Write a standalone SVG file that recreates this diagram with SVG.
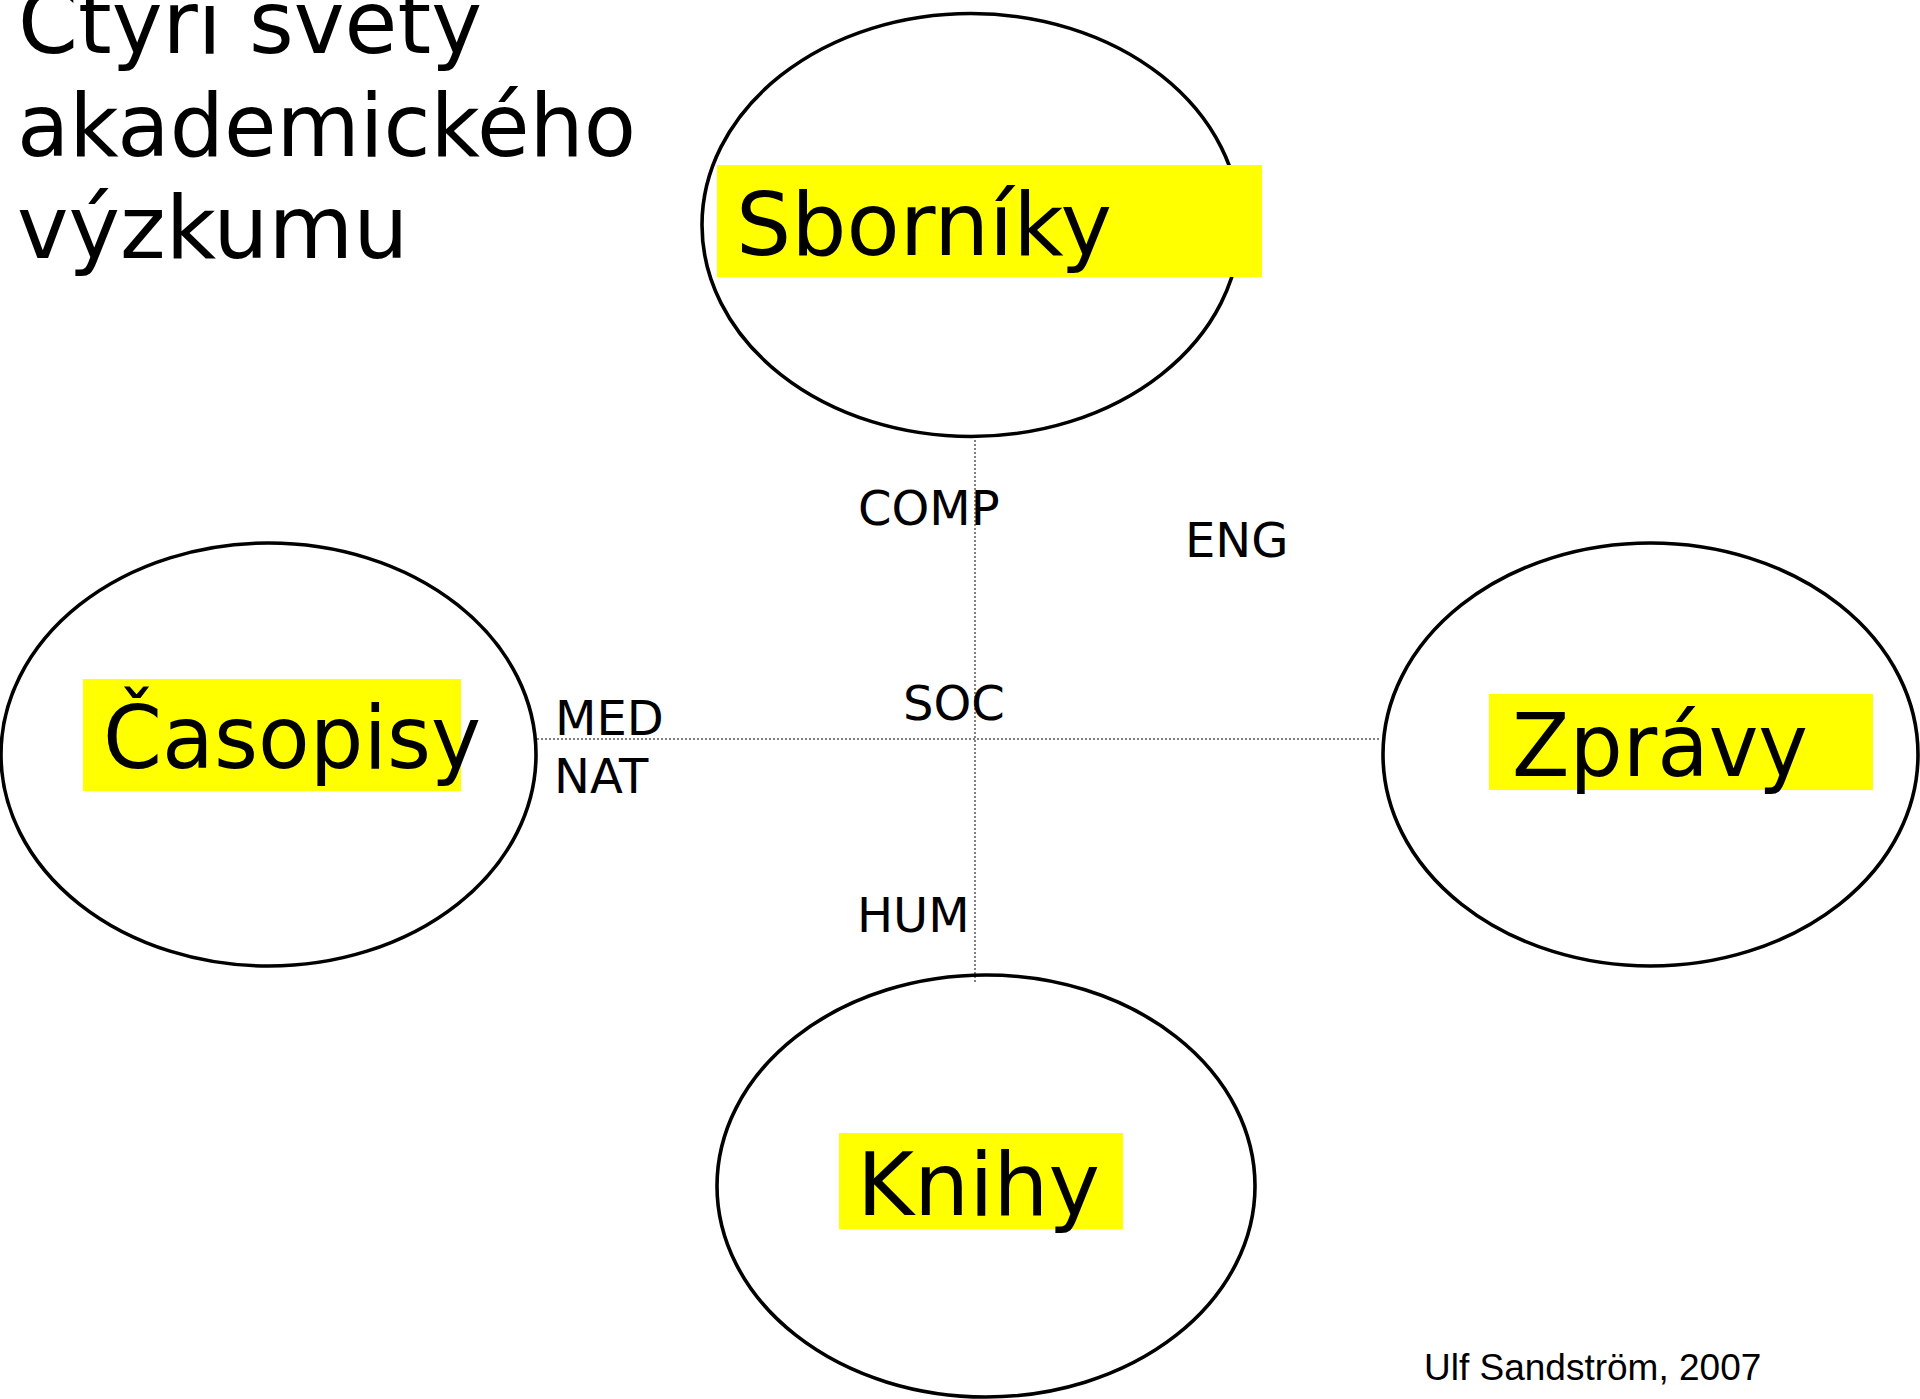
<svg xmlns="http://www.w3.org/2000/svg" width="1920" height="1399" viewBox="0 0 1920 1399">
<style>
.bg{fill:#ffffff}
.node{fill:none;stroke:#000000;stroke-width:3.6}
.hl{fill:#ffff00;stroke:none}
.big{font-family:"DejaVu Sans","Liberation Sans",sans-serif;font-size:87px;fill:#000000}
.lbl{font-family:"DejaVu Sans","Liberation Sans",sans-serif;font-size:48px;fill:#000000}
.foot{font-family:"Liberation Sans",Arial,sans-serif;font-size:37px;fill:#000000}
.axis{fill:none;stroke:#808080;stroke-width:2;stroke-dasharray:2 2}
</style>
<rect class="bg" x="0" y="0" width="1920" height="1399"/>
<g id="title">
<text class="big" x="18" y="53" textLength="464" lengthAdjust="spacingAndGlyphs">Čtyři světy</text>
<text class="big" x="17" y="156" textLength="619" lengthAdjust="spacingAndGlyphs">akademického</text>
<text class="big" x="17" y="258">výzkumu</text>
</g>
<g id="connectors">
<line class="axis" x1="975" y1="440" x2="975" y2="982"/>
<line class="axis" x1="537" y1="739" x2="1381" y2="739"/>
</g>
<g id="node-sborniky">
<ellipse class="node" cx="971" cy="225" rx="269" ry="211.5"/>
<rect class="hl" x="717" y="165" width="545" height="112"/>
<text class="big" x="736" y="255">Sborníky</text>
</g>
<g id="node-casopisy">
<ellipse class="node" cx="268.5" cy="754.5" rx="267.5" ry="211.5"/>
<rect class="hl" x="83" y="679" width="378" height="112"/>
<text class="big" x="103" y="768" textLength="378" lengthAdjust="spacingAndGlyphs">Časopisy</text>
</g>
<g id="node-zpravy">
<ellipse class="node" cx="1650.5" cy="754.5" rx="267.5" ry="211.5"/>
<rect class="hl" x="1489" y="694" width="384" height="96"/>
<text class="big" x="1512" y="776" textLength="296" lengthAdjust="spacingAndGlyphs">Zprávy</text>
</g>
<g id="node-knihy">
<ellipse class="node" cx="986" cy="1186" rx="269" ry="211"/>
<rect class="hl" x="839" y="1133" width="284" height="96"/>
<text class="big" x="857" y="1215">Knihy</text>
</g>
<g id="labels">
<text class="lbl" x="858" y="525">COMP</text>
<text class="lbl" x="1185" y="557">ENG</text>
<text class="lbl" x="903" y="720">SOC</text>
<text class="lbl" x="555" y="735">MED</text>
<text class="lbl" x="554" y="793">NAT</text>
<text class="lbl" x="857" y="932">HUM</text>
</g>
<g id="footer">
<text class="foot" x="1424" y="1380">Ulf Sandström, 2007</text>
</g>
</svg>
